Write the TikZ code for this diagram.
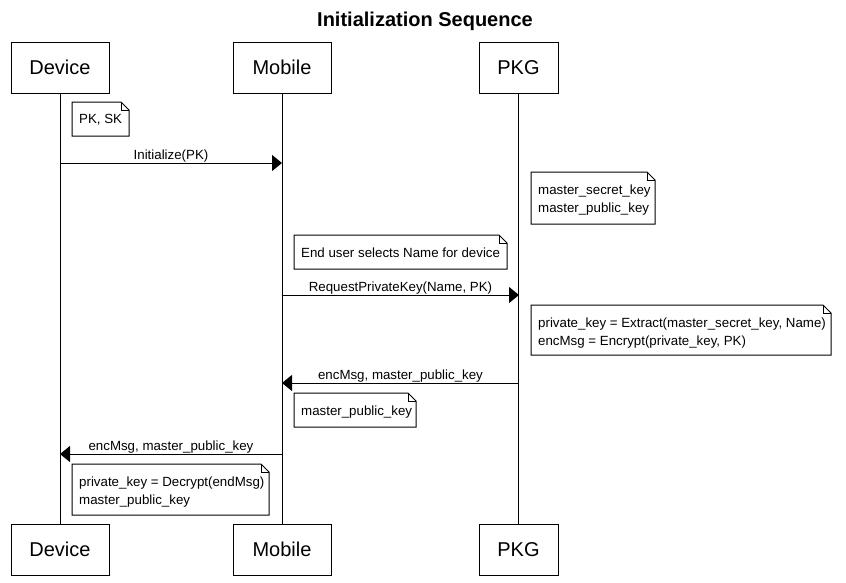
\documentclass[tikz,border=0pt]{standalone}
\usepackage{fontspec}
\setmainfont{Liberation Sans}
\usetikzlibrary{arrows.meta}
\begin{document}
\begin{tikzpicture}[x=1pt,y=-1pt,
  part/.style={draw,line width=1pt,minimum width=98pt,minimum height=51pt,inner sep=0pt,font=\fontsize{20}{24}\selectfont},
  life/.style={line width=1pt},
  msg/.style={line width=1pt,-{Triangle[length=10pt,width=16pt]}},
  mlabel/.style={font=\fontsize{13.3}{16}\selectfont,anchor=south,inner sep=1pt},
  notetext/.style={font=\fontsize{13.3}{18}\selectfont,align=left,anchor=north west,inner sep=0pt,draw=none}
]
\useasboundingbox (0,0) rectangle (846,582);
\node[font=\bfseries\fontsize{20}{24}\selectfont] (title) at (425,21) {Initialization Sequence};

% participants
\node[part] (dev) at (60,67.5) {Device};
\node[part] (mob) at (282,67.5) {Mobile};
\node[part,minimum width=79pt] (pkg) at (518.5,67.5) {PKG};
\node[part] (devb) at (60,549.5) {Device};
\node[part] (mobb) at (282,549.5) {Mobile};
\node[part,minimum width=79pt] (pkgb) at (518.5,549.5) {PKG};

\draw[life] (dev.south) -- (devb.north);
\draw[life] (mob.south) -- (mobb.north);
\draw[life] (pkg.south) -- (pkgb.north);

% note macro
\newcommand{\mynote}[6]{%
  \coordinate (#1nw) at (#2,#3);
  \coordinate (#1se) at (#4,#5);
  \draw[line width=1pt] (#1nw) -- (#4-8,#3) -- (#4,#3+8) -- (#1se) -- (#2,#5) -- cycle;
  \draw[line width=0.8pt] (#4-8,#3) -- (#4-8,#3+8) -- (#4,#3+8);
  \node[notetext] (#1) at (#2+7,#3+12.5) {#6};
}

\mynote{n1}{72}{102}{129}{136}{PK, SK}
\coordinate (a1s) at (60,163);
\coordinate (a1e) at (282,163);
\draw[msg] (a1s) -- (a1e) node[mlabel,midway,yshift=-1pt] (l1) {Initialize(PK)};

\mynote{n2}{531}{172}{655}{224}{master\_secret\_key\\master\_public\_key}
\mynote{n3}{294}{235}{507}{269}{End user selects Name for device}

\coordinate (a2s) at (282,295);
\coordinate (a2e) at (519,295);
\draw[msg] (a2s) -- (a2e) node[mlabel,midway,yshift=-1pt] (l2) {RequestPrivateKey(Name, PK)};

\mynote{n4}{531}{305}{831}{355}{private\_key = Extract(master\_secret\_key, Name)\\encMsg = Encrypt(private\_key, PK)}

\coordinate (a3s) at (519,383);
\coordinate (a3e) at (282,383);
\draw[msg] (a3s) -- (a3e) node[mlabel,midway,yshift=-1pt] (l3) {encMsg, master\_public\_key};

\mynote{n5}{294}{393}{416}{427}{master\_public\_key}

\coordinate (a4s) at (282,454);
\coordinate (a4e) at (60,454);
\draw[msg] (a4s) -- (a4e) node[mlabel,midway,yshift=-1pt] (l4) {encMsg, master\_public\_key};

\mynote{n6}{72}{464}{269}{515}{private\_key = Decrypt(endMsg)\\master\_public\_key}
\end{tikzpicture}
\end{document}
